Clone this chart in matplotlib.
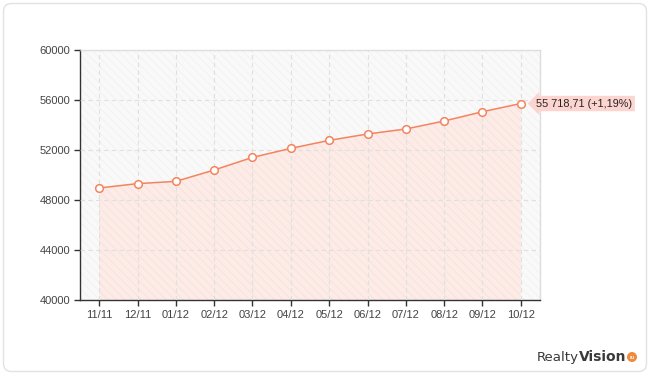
import matplotlib
matplotlib.use("Agg")
import matplotlib.pyplot as plt
from matplotlib.patches import FancyBboxPatch, Rectangle, Ellipse

# ---- data ----
categories = ["11/11", "12/11", "01/12", "02/12", "03/12", "04/12",
              "05/12", "06/12", "07/12", "08/12", "09/12", "10/12"]
values = [48960, 49310, 49490, 50400, 51410, 52130,
          52770, 53280, 53680, 54320, 55063, 55718.71]
y_ticks = [40000, 44000, 48000, 52000, 56000, 60000]
y_min, y_max = 40000, 60000

plt.rcParams['font.family'] = ['Liberation Sans', 'DejaVu Sans']
plt.rcParams['hatch.linewidth'] = 0.6

W, H = 650, 375
fig = plt.figure(figsize=(W / 100, H / 100), dpi=100)
fig.patch.set_facecolor('white')

# background frame overlay in pixel coordinates
bg = fig.add_axes([0, 0, 1, 1], zorder=0)
bg.set_xlim(0, W)
bg.set_ylim(H, 0)
bg.axis('off')
bg.add_patch(FancyBboxPatch((3.5, 3.5), W - 7, H - 7,
                            boxstyle='round,pad=0,rounding_size=8',
                            fc='white', ec='#e2e2e2', lw=1))
# logo
bg.text(579, 361, "Realty", ha='right', va='baseline', fontsize=9.6,
        color='#3a3a3a', family='DejaVu Sans')
bg.text(579, 361, "Vision", ha='left', va='baseline', fontsize=10,
        fontweight='bold', color='#3a3a3a', family='DejaVu Sans')
bg.add_patch(Ellipse((632, 357), 10, 10, fc='#f08a3c', ec='none'))
bg.text(632, 357.5, "ru", ha='center', va='center', fontsize=3.5,
        color='white', fontweight='bold')

# main axes: pixels x 80..540, y 50..300
ax = fig.add_axes([80 / W, 1 - 300 / H, 460 / W, 250 / H], zorder=1)
ax.set_facecolor('none')
x = list(range(len(categories)))

ax.add_patch(Rectangle((0, 0), 1, 1, transform=ax.transAxes,
                       fc='#f9f9f9', ec='#f2f2f2', lw=0,
                       hatch='\\\\\\\\', zorder=0))
ax.fill_between(x, y_min, values, facecolor='#fcebe6', edgecolor='#f9e1da',
                linewidth=0, hatch='\\\\\\\\', zorder=1)

ax.set_xlim(-0.5, len(categories) - 0.5)
ax.set_ylim(y_min, y_max)
ax.set_xticks(x)
ax.set_xticklabels(categories)
ax.set_yticks(y_ticks)
ax.set_yticklabels([str(v) for v in y_ticks])

ax.grid(True, color='#e0e0e0', linestyle=(0, (4, 3)), linewidth=0.8, zorder=2)
ax.set_axisbelow(False)

ax.plot(x, values, color='#f4845f', lw=1.1, zorder=3,
        marker='o', markersize=5.5, markerfacecolor='white',
        markeredgecolor='#f4845f', markeredgewidth=1.1, clip_on=False)

for side in ['left', 'bottom']:
    ax.spines[side].set_color('#333333')
    ax.spines[side].set_linewidth(1)
for side in ['top', 'right']:
    ax.spines[side].set_color('#dddddd')
    ax.spines[side].set_linewidth(1)

ax.tick_params(axis='y', direction='out', length=4, width=1, color='#333333',
               labelsize=8, labelcolor='#444444', pad=3)
ax.tick_params(axis='x', direction='out', length=4, width=1, color='#333333',
               labelsize=8, labelcolor='#444444', pad=3)

last, prev = values[-1], values[-2]
pct = (last / prev - 1) * 100
val_str = f"{last:,.2f}".replace(",", " ").replace(".", ",")
pct_str = f"{pct:+.2f}".replace(".", ",")
ax.annotate(f"{val_str} ({pct_str}%)", xy=(x[-1], last),
            xytext=(11, 0), textcoords='offset points',
            ha='left', va='center', fontsize=7.8, color='#222222',
            annotation_clip=False, zorder=5,
            bbox=dict(boxstyle='larrow,pad=0.25', fc='#fdd5d0', ec='none'))

fig.savefig("out.png", dpi=100)
